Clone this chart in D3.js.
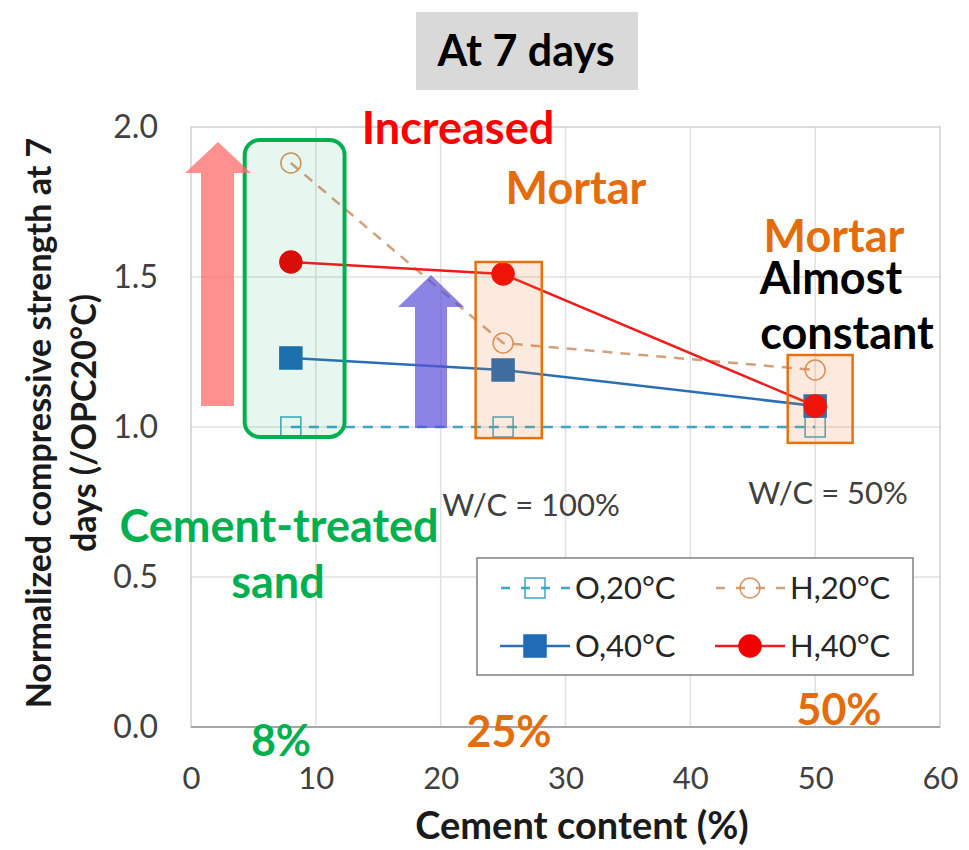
<!DOCTYPE html>
<html>
<head>
<meta charset="utf-8">
<script src="https://cdn.jsdelivr.net/npm/d3@7"></script>
<style>
  html, body { margin: 0; padding: 0; background: #fff; }
  svg { display: block; }
  text { font-family: Lato, "Open Sans", sans-serif; }
</style>
</head>
<body>
<svg id="chart" width="969" height="850"></svg>
<script>
// Cement content (%) of the three mixes
const cement = [8, 25, 50];
// Normalized compressive strength at 7 days (/OPC20°C)
const o20 = [1.0, 1.0, 1.0];
const h20 = [1.88, 1.28, 1.19];
const o40 = [1.23, 1.19, 1.07];
const h40 = [1.55, 1.51, 1.07];

const seriesNames = ["O,20°C", "H,20°C", "O,40°C", "H,40°C"];
const xTicks = [0, 10, 20, 30, 40, 50, 60];
const yTicks = [0.0, 0.5, 1.0, 1.5, 2.0];

const svg = d3.select("#chart");
const x = d3.scaleLinear().domain([0, 60]).range([191, 940]);
const y = d3.scaleLinear().domain([0, 2]).range([727, 127]);

// plot frame and gridlines
const grid = svg.append("g");
grid.selectAll("line.v").data(xTicks.slice(1, -1)).enter().append("line")
  .attr("x1", d => x(d)).attr("x2", d => x(d)).attr("y1", y(0)).attr("y2", y(2))
  .attr("stroke", "#e0e0e0").attr("stroke-width", 1.5);
grid.selectAll("line.h").data(yTicks.slice(1, -1)).enter().append("line")
  .attr("x1", x(0)).attr("x2", x(60)).attr("y1", d => y(d)).attr("y2", d => y(d))
  .attr("stroke", "#e0e0e0").attr("stroke-width", 1.5);
svg.append("rect").attr("x", x(0)).attr("y", y(2)).attr("width", x(60) - x(0)).attr("height", y(0) - y(2))
  .attr("fill", "none").attr("stroke", "#cfcfcf").attr("stroke-width", 1.5);
svg.append("line").attr("x1", x(0)).attr("x2", x(60)).attr("y1", y(0)).attr("y2", y(0))
  .attr("stroke", "#a6a6a6").attr("stroke-width", 2);

// axes (tick labels only)
const xAxis = d3.axisBottom(x).tickValues(xTicks).tickSize(0).tickPadding(0).tickFormat(d3.format("d"));
const gx = svg.append("g").attr("transform", `translate(0,${y(0) + 62})`).call(xAxis);
gx.select(".domain").remove();
gx.selectAll("text").attr("font-size", 31).attr("fill", "#404040").attr("font-family", "Lato").attr("dy", "0");

const yAxis = d3.axisLeft(y).tickValues(yTicks).tickSize(0).tickPadding(0).tickFormat(d3.format(".1f"));
const gy = svg.append("g").attr("transform", `translate(${x(0) - 33},0)`).call(yAxis);
gy.select(".domain").remove();
gy.selectAll("text").attr("font-size", 32).attr("fill", "#404040").attr("font-family", "Lato");

// axis titles
svg.append("text").attr("x", 582).attr("y", 839).attr("text-anchor", "middle")
  .attr("font-size", 38).attr("font-weight", 700).attr("fill", "#1a1a1a").text("Cement content (%)");
const yt = svg.append("g").attr("transform", "translate(51,423) rotate(-90)");
yt.append("text").attr("x", 0).attr("y", 0).attr("text-anchor", "middle")
  .attr("font-size", 34).attr("font-weight", 700).attr("fill", "#1a1a1a").text("Normalized compressive strength at 7");
yt.append("text").attr("x", 0).attr("y", 45).attr("text-anchor", "middle")
  .attr("font-size", 34).attr("font-weight", 700).attr("fill", "#1a1a1a").text("days (/OPC20°C)");

// series
const styles = [
  { vals: o20, color: "#3ea5c4", mcolor: "#3ea5c4", dash: "10,8", marker: "square", filled: false, width: 2.5 },
  { vals: h20, color: "#d2a17c", mcolor: "#d8945c", dash: "10,8", marker: "circle", filled: false, width: 2.5 },
  { vals: o40, color: "#2a6fb6", mcolor: "#1f6bb5", dash: null, marker: "square", filled: true, width: 2.5 },
  { vals: h40, color: "#ee1c1c", mcolor: "#f00000", dash: null, marker: "circle", filled: true, width: 2.5 }
];

const line = d3.line().x(d => x(d[0])).y(d => y(d[1]));

function drawMarker(g, cx, cy, s, big) {
  const r = big ? 11 : 10;
  if (s.marker === "square") {
    g.append("rect").attr("x", cx - r).attr("y", cy - r).attr("width", 2 * r).attr("height", 2 * r)
      .attr("fill", s.filled ? s.mcolor : "none").attr("stroke", s.mcolor).attr("stroke-width", 1.5);
  } else {
    g.append("circle").attr("cx", cx).attr("cy", cy).attr("r", r)
      .attr("fill", s.filled ? s.mcolor : "none").attr("stroke", s.mcolor).attr("stroke-width", 1.5);
  }
}

styles.forEach(s => {
  const pts = cement.map((c, i) => [c, s.vals[i]]);
  svg.append("path").datum(pts).attr("d", line).attr("fill", "none")
    .attr("stroke", s.color).attr("stroke-width", s.width)
    .attr("stroke-dasharray", s.dash);
  const g = svg.append("g");
  pts.forEach(p => drawMarker(g, x(p[0]), y(p[1]), s, s.filled));
});

// highlight boxes
svg.append("rect").attr("x", x(4.3)).attr("y", y(1.957)).attr("width", x(12.3) - x(4.3)).attr("height", y(0.967) - y(1.957))
  .attr("rx", 15).attr("fill", "rgba(0,160,90,0.09)").attr("stroke", "#00b050").attr("stroke-width", 4);
svg.append("rect").attr("x", x(22.8)).attr("y", y(1.55)).attr("width", x(28.1) - x(22.8)).attr("height", y(0.963) - y(1.55))
  .attr("fill", "rgba(237,125,49,0.16)").attr("stroke", "#e8700f").attr("stroke-width", 2.5);
svg.append("rect").attr("x", x(47.8)).attr("y", y(1.24)).attr("width", x(53.0) - x(47.8)).attr("height", y(0.947) - y(1.24))
  .attr("fill", "rgba(237,125,49,0.16)").attr("stroke", "#e8700f").attr("stroke-width", 2.5);

// upward arrows
function arrow(x0, x1, hx0, hx1, yBottom, yHead, yTip, fill, op) {
  const tx = (hx0 + hx1) / 2;
  const p = `M${x0},${yBottom} L${x0},${yHead} L${hx0},${yHead} L${tx},${yTip} L${hx1},${yHead} L${x1},${yHead} L${x1},${yBottom} Z`;
  svg.append("path").attr("d", p).attr("fill", fill).attr("opacity", op);
}
arrow(201, 234, 185, 251, 406, 173, 142, "#ff6b6b", 0.75);
arrow(415, 447, 398, 464, 428, 307, 275, "#5a50d8", 0.7);

// legend
const lg = svg.append("g");
lg.append("rect").attr("x", 477).attr("y", 558).attr("width", 436).attr("height", 117)
  .attr("fill", "#fff").attr("stroke", "#808080").attr("stroke-width", 1.5);
const legendPos = [[535, 588], [750, 588], [535, 646], [750, 646]];
seriesNames.forEach((name, si) => {
  const s = styles[si];
  const [cx, cy] = legendPos[si];
  lg.append("line").attr("x1", cx - 35).attr("x2", cx + 35).attr("y1", cy).attr("y2", cy)
    .attr("stroke", s.color).attr("stroke-width", s.width).attr("stroke-dasharray", s.dash ? "9,11" : null)
    .attr("stroke-dashoffset", s.dash ? -1 : null);
  drawMarker(lg, cx, cy, s, s.filled);
  lg.append("text").attr("x", cx + 40).attr("y", cy + 11).attr("font-size", 31)
    .attr("fill", "#262626").text(name);
});

// title
svg.append("rect").attr("x", 416).attr("y", 12).attr("width", 222).attr("height", 78).attr("fill", "#d9d9d9");
svg.append("text").attr("x", 526).attr("y", 66).attr("text-anchor", "middle")
  .attr("font-size", 43).attr("font-weight", 700).attr("fill", "#000").text("At 7 days");

// annotations
const notes = [
  { t: "Increased", x: 458, y: 144, c: "#ff0000", s: 45, w: 700 },
  { t: "Mortar", x: 576, y: 204, c: "#e46c0a", s: 45, w: 700 },
  { t: "Mortar", x: 834, y: 252, c: "#e46c0a", s: 45, w: 700 },
  { t: "Almost", x: 831, y: 294, c: "#000", s: 45, w: 700 },
  { t: "constant", x: 847, y: 349, c: "#000", s: 45, w: 700 },
  { t: "W/C = 100%", x: 531, y: 516, c: "#404040", s: 31, w: 400 },
  { t: "W/C = 50%", x: 828, y: 504, c: "#404040", s: 31, w: 400 },
  { t: "Cement-treated", x: 279, y: 542, c: "#00b050", s: 45, w: 700 },
  { t: "sand", x: 278, y: 598, c: "#00b050", s: 45, w: 700 },
  { t: "8%", x: 281, y: 756, c: "#00b050", s: 43, w: 700 },
  { t: "25%", x: 509, y: 747, c: "#e46c0a", s: 43, w: 700 },
  { t: "50%", x: 839, y: 725, c: "#e46c0a", s: 43, w: 700 }
];
svg.append("g").selectAll("text").data(notes).enter().append("text")
  .attr("x", d => d.x).attr("y", d => d.y).attr("text-anchor", "middle")
  .attr("font-size", d => d.s).attr("font-weight", d => d.w).attr("fill", d => d.c)
  .text(d => d.t);
</script>
</body>
</html>
